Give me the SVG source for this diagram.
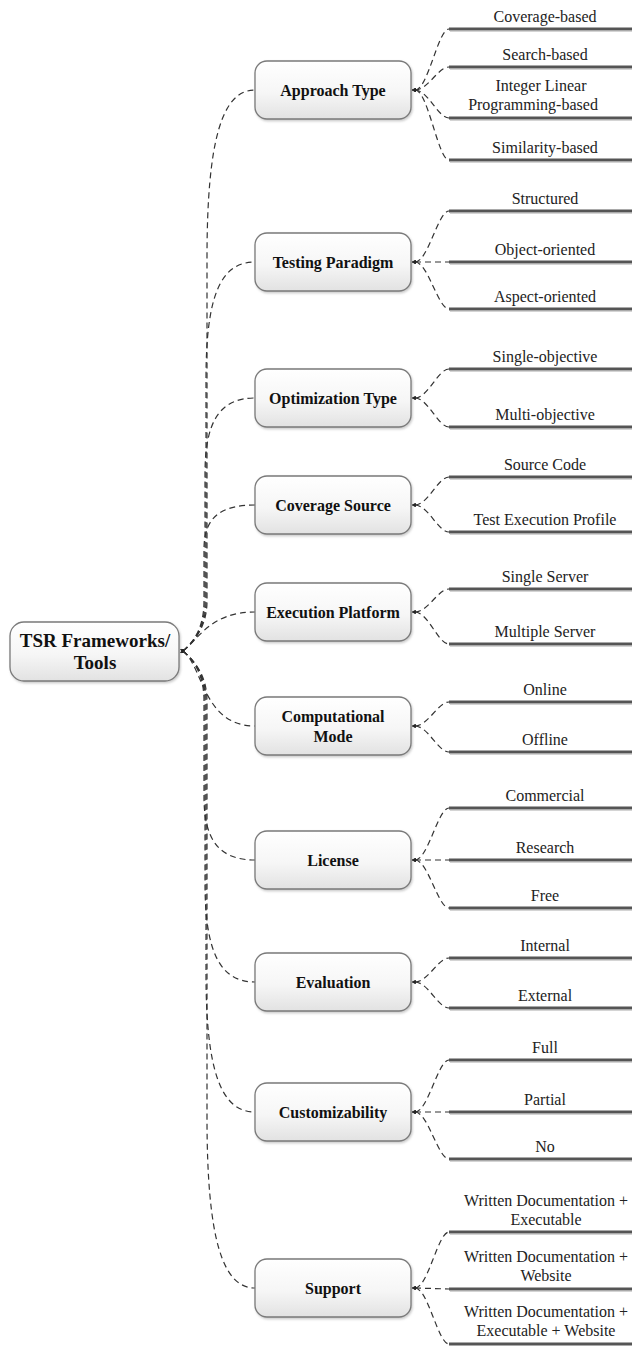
<svg xmlns="http://www.w3.org/2000/svg" width="632" height="1346" viewBox="0 0 632 1346">
<defs>
<linearGradient id="nodeFill" x1="0" y1="0" x2="0" y2="1">
<stop offset="0" stop-color="#ffffff"/>
<stop offset="0.55" stop-color="#f6f6f6"/>
<stop offset="1" stop-color="#e2e2e2"/>
</linearGradient>
<filter id="sh" x="-10%" y="-10%" width="125%" height="130%">
<feDropShadow dx="1" dy="1.5" stdDeviation="1" flood-color="#888" flood-opacity="0.45"/>
</filter>
<marker id="tip" viewBox="0 0 6 6" refX="1" refY="3" markerWidth="4" markerHeight="4" orient="auto-start-reverse" markerUnits="userSpaceOnUse">
<path d="M0,0 L6,3 L0,6 z" fill="#222"/>
</marker>
</defs>
<style>
.node{fill:url(#nodeFill);stroke:#7a7a7a;stroke-width:1.3;filter:url(#sh)}
.cat{font-family:"Liberation Serif","Times New Roman",serif;font-weight:bold;font-size:16px;fill:#111;text-anchor:middle}
.root{font-family:"Liberation Serif","Times New Roman",serif;font-weight:bold;font-size:19px;fill:#111;text-anchor:middle}
.lbl{font-family:"Liberation Serif","Times New Roman",serif;font-size:16px;fill:#222;text-anchor:middle}
.dash{fill:none;stroke:#333;stroke-width:1.2;stroke-dasharray:6 4;marker-start:url(#tip)}
.bar{stroke:#555;stroke-width:3;fill:none}
.barsh{stroke:#aaa;stroke-width:1;fill:none}
</style>

<g id="connectors">
<!-- root to categories -->
<path class="dash" d="M183 651 C195 641,207 626,207 601 L207 258 C207 140,222 90,255 90"/>
<path class="dash" d="M183 651 C195 641,206 626,206 601 L206 379 C206 297,220 262,255 262"/>
<path class="dash" d="M183 651 C195 641,205 626,205 601 L205 474 C205 421,220 398,255 398"/>
<path class="dash" d="M183 651 C195 641,204 626,204 601 L204 549 C204 518,220 505,255 505"/>
<path class="dash" d="M183 651 C198 640,210 612,255 612"/>
<path class="dash" d="M183 651 C203 666,203 726,255 726"/>
<path class="dash" d="M183 651 C195 661,204 676,204 701 L204 797 C204 841,220 860,255 860"/>
<path class="dash" d="M183 651 C195 661,205 676,205 701 L205 883 C205 952,220 982,255 982"/>
<path class="dash" d="M183 651 C195 661,206 676,206 701 L206 974 C206 1071,221 1112,255 1112"/>
<path class="dash" d="M183 651 C195 661,207 676,207 701 L207 1118 C207 1237,222 1288,255 1288"/>
<!-- Approach Type -->
<path class="dash" d="M415 90 C428 90,438 29,449 29"/>
<path class="dash" d="M415 90 C428 90,438 67,449 67"/>
<path class="dash" d="M415 90 C428 90,438 118,449 118"/>
<path class="dash" d="M415 90 C428 90,438 160,449 160"/>
<!-- Testing Paradigm -->
<path class="dash" d="M415 262 C428 262,438 211,449 211"/>
<path class="dash" d="M415 262 L449 262"/>
<path class="dash" d="M415 262 C428 262,438 309,449 309"/>
<!-- Optimization Type -->
<path class="dash" d="M415 398 C428 398,438 369,449 369"/>
<path class="dash" d="M415 398 C428 398,438 427,449 427"/>
<!-- Coverage Source -->
<path class="dash" d="M415 505 C428 505,438 477,449 477"/>
<path class="dash" d="M415 505 C428 505,438 532,449 532"/>
<!-- Execution Platform -->
<path class="dash" d="M415 612 C428 612,438 589,449 589"/>
<path class="dash" d="M415 612 C428 612,438 644,449 644"/>
<!-- Computational Mode -->
<path class="dash" d="M415 726 C428 726,438 702,449 702"/>
<path class="dash" d="M415 726 C428 726,438 752,449 752"/>
<!-- License -->
<path class="dash" d="M415 860 C428 860,438 808,449 808"/>
<path class="dash" d="M415 860 L449 860"/>
<path class="dash" d="M415 860 C428 860,438 908,449 908"/>
<!-- Evaluation -->
<path class="dash" d="M415 982 C428 982,438 958,449 958"/>
<path class="dash" d="M415 982 C428 982,438 1008,449 1008"/>
<!-- Customizability -->
<path class="dash" d="M415 1112 C428 1112,438 1060,449 1060"/>
<path class="dash" d="M415 1112 L449 1112"/>
<path class="dash" d="M415 1112 C428 1112,438 1159,449 1159"/>
<!-- Support -->
<path class="dash" d="M415 1288 C428 1288,438 1232,449 1232"/>
<path class="dash" d="M415 1288 L449 1289"/>
<path class="dash" d="M415 1288 C428 1288,438 1344,449 1344"/>
</g>

<g id="root">
<rect class="node" x="10" y="622" width="169" height="59" rx="14"/>
<text class="root" x="95" y="647">TSR Frameworks/</text>
<text class="root" x="95" y="669">Tools</text>
</g>

<g id="cat-approach">
<rect class="node" x="255" y="61" width="156" height="58" rx="12"/>
<text class="cat" x="333" y="96">Approach Type</text>
</g>
<g id="cat-testing">
<rect class="node" x="255" y="233" width="156" height="58" rx="12"/>
<text class="cat" x="333" y="268">Testing Paradigm</text>
</g>
<g id="cat-optimization">
<rect class="node" x="255" y="369" width="156" height="58" rx="12"/>
<text class="cat" x="333" y="404">Optimization Type</text>
</g>
<g id="cat-coverage">
<rect class="node" x="255" y="476" width="156" height="58" rx="12"/>
<text class="cat" x="333" y="511">Coverage Source</text>
</g>
<g id="cat-execution">
<rect class="node" x="255" y="583" width="156" height="58" rx="12"/>
<text class="cat" x="333" y="618">Execution Platform</text>
</g>
<g id="cat-computational">
<rect class="node" x="255" y="697" width="156" height="58" rx="12"/>
<text class="cat" x="333" y="722">Computational</text>
<text class="cat" x="333" y="742">Mode</text>
</g>
<g id="cat-license">
<rect class="node" x="255" y="831" width="156" height="58" rx="12"/>
<text class="cat" x="333" y="866">License</text>
</g>
<g id="cat-evaluation">
<rect class="node" x="255" y="953" width="156" height="58" rx="12"/>
<text class="cat" x="333" y="988">Evaluation</text>
</g>
<g id="cat-customizability">
<rect class="node" x="255" y="1083" width="156" height="58" rx="12"/>
<text class="cat" x="333" y="1118">Customizability</text>
</g>
<g id="cat-support">
<rect class="node" x="255" y="1259" width="156" height="58" rx="12"/>
<text class="cat" x="333" y="1294">Support</text>
</g>

<g id="leaves-approach">
<path class="bar" d="M449 29 H632 M449 67 H632 M449 118 H632 M449 160 H632"/>
<path class="barsh" d="M450 31 H632 M450 69 H632 M450 120 H632 M450 162 H632"/>
<text class="lbl" x="545" y="22">Coverage-based</text>
<text class="lbl" x="545" y="60">Search-based</text>
<text class="lbl" x="541" y="91">Integer Linear</text>
<text class="lbl" x="533" y="110">Programming-based</text>
<text class="lbl" x="545" y="153">Similarity-based</text>
</g>
<g id="leaves-testing">
<path class="bar" d="M449 211 H632 M449 262 H632 M449 309 H632"/>
<path class="barsh" d="M450 213 H632 M450 264 H632 M450 311 H632"/>
<text class="lbl" x="545" y="204">Structured</text>
<text class="lbl" x="545" y="255">Object-oriented</text>
<text class="lbl" x="545" y="302">Aspect-oriented</text>
</g>
<g id="leaves-optimization">
<path class="bar" d="M449 369 H632 M449 427 H632"/>
<path class="barsh" d="M450 371 H632 M450 429 H632"/>
<text class="lbl" x="545" y="362">Single-objective</text>
<text class="lbl" x="545" y="420">Multi-objective</text>
</g>
<g id="leaves-coverage">
<path class="bar" d="M449 477 H632 M449 532 H632"/>
<path class="barsh" d="M450 479 H632 M450 534 H632"/>
<text class="lbl" x="545" y="470">Source Code</text>
<text class="lbl" x="545" y="525">Test Execution Profile</text>
</g>
<g id="leaves-execution">
<path class="bar" d="M449 589 H632 M449 644 H632"/>
<path class="barsh" d="M450 591 H632 M450 646 H632"/>
<text class="lbl" x="545" y="582">Single Server</text>
<text class="lbl" x="545" y="637">Multiple Server</text>
</g>
<g id="leaves-computational">
<path class="bar" d="M449 702 H632 M449 752 H632"/>
<path class="barsh" d="M450 704 H632 M450 754 H632"/>
<text class="lbl" x="545" y="695">Online</text>
<text class="lbl" x="545" y="745">Offline</text>
</g>
<g id="leaves-license">
<path class="bar" d="M449 808 H632 M449 860 H632 M449 908 H632"/>
<path class="barsh" d="M450 810 H632 M450 862 H632 M450 910 H632"/>
<text class="lbl" x="545" y="801">Commercial</text>
<text class="lbl" x="545" y="853">Research</text>
<text class="lbl" x="545" y="901">Free</text>
</g>
<g id="leaves-evaluation">
<path class="bar" d="M449 958 H632 M449 1008 H632"/>
<path class="barsh" d="M450 960 H632 M450 1010 H632"/>
<text class="lbl" x="545" y="951">Internal</text>
<text class="lbl" x="545" y="1001">External</text>
</g>
<g id="leaves-customizability">
<path class="bar" d="M449 1060 H632 M449 1112 H632 M449 1159 H632"/>
<path class="barsh" d="M450 1062 H632 M450 1114 H632 M450 1161 H632"/>
<text class="lbl" x="545" y="1053">Full</text>
<text class="lbl" x="545" y="1105">Partial</text>
<text class="lbl" x="545" y="1152">No</text>
</g>
<g id="leaves-support">
<path class="bar" d="M449 1232 H632 M449 1289 H632 M449 1344 H632"/>
<path class="barsh" d="M450 1234 H632 M450 1291 H632"/>
<text class="lbl" x="546" y="1206">Written Documentation +</text>
<text class="lbl" x="546" y="1225">Executable</text>
<text class="lbl" x="546" y="1262">Written Documentation +</text>
<text class="lbl" x="546" y="1281">Website</text>
<text class="lbl" x="546" y="1317">Written Documentation +</text>
<text class="lbl" x="546" y="1336">Executable + Website</text>
</g>
</svg>
